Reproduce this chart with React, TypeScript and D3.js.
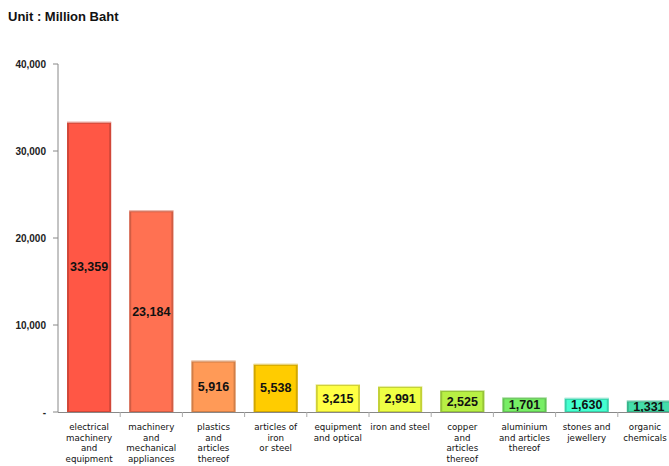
import React from 'react';
import { scaleBand, scaleLinear, format } from 'd3';

const width = 669;
const height = 466;

const categories = [
  ['electrical', 'machinery', 'and', 'equipment'],
  ['machinery', 'and', 'mechanical', 'appliances'],
  ['plastics', 'and', 'articles', 'thereof'],
  ['articles of', 'iron', 'or steel'],
  ['equipment', 'and optical'],
  ['iron and steel'],
  ['copper', 'and', 'articles', 'thereof'],
  ['aluminium', 'and articles', 'thereof'],
  ['stones and', 'jewellery'],
  ['organic', 'chemicals'],
];
const values = [33359, 23184, 5916, 5538, 3215, 2991, 2525, 1701, 1630, 1331];
const colors = ['#ff5745', '#ff7152', '#ff9a57', '#ffcc00', '#ffff44', '#eeff44', '#b8f044', '#78ee66', '#44ffd0', '#44ddaa'];
const yTicks = [0, 10000, 20000, 30000, 40000];

const left = 58;
const top = 64;
const bottom = 412;

const x = scaleBand<number>()
  .domain(values.map((_, i) => i))
  .range([left, left + 622])
  .paddingInner(0.29)
  .paddingOuter(0.145);

const y = scaleLinear().domain([0, 40000]).range([bottom, top]);
const fmt = format(',');
const font = '"Liberation Sans", Arial, sans-serif';

const App = () => (
  <svg width={width} height={height} style={{ position: 'absolute', left: 0, top: 0 }} fontFamily={font}>
    <defs>
      <clipPath id='plot'>
        <rect x={left} y={top - 20} width={width - left} height={bottom - top + 20} />
      </clipPath>
    </defs>
    <text x={8} y={21} fontSize={13} fontWeight='bold' fill='#111'>Unit : Million Baht</text>
    {yTicks.map(t => (
      <g key={t}>
        <line x1={left - 5} x2={left} y1={y(t)} y2={y(t)} stroke='#888' />
        <text x={left - 12} y={y(t) + 4} fontSize={10} fontWeight='bold' textAnchor='end' fill='#222'>
          {t === 0 ? '-' : fmt(t)}
        </text>
      </g>
    ))}
    <g clipPath='url(#plot)'>
      {values.map((v, i) => {
        const bx = x(i)!;
        const bw = x.bandwidth();
        const by = y(v);
        const bh = bottom - by;
        return (
          <g key={i}>
            <rect x={bx} y={by} width={bw} height={bh} fill={colors[i]} />
            <rect x={bx + 1} y={by + 1} width={bw - 2} height={bh - 1} fill='none'
              stroke='rgba(0,0,0,0.18)' strokeWidth={2} />
            <line x1={bx} x2={bx + bw} y1={by + 0.5} y2={by + 0.5} stroke='rgba(255,255,255,0.6)' />
            <text x={bx + bw / 2} y={by + bh / 2 + 4.5} fontSize={12.5} fontWeight='bold'
              textAnchor='middle' fill='#111'>{fmt(v)}</text>
          </g>
        );
      })}
    </g>
    <line x1={left} x2={left} y1={top} y2={bottom} stroke='#888' />
    <line x1={left} x2={width} y1={bottom + 0.5} y2={bottom + 0.5} stroke='#888' />
    {values.map((_, i) => {
      const tx = left + (x.step() * (i + 1));
      return <line key={i} x1={tx} x2={tx} y1={bottom} y2={bottom + 5} stroke='#aaa' />;
    })}
    {categories.map((lines, i) => {
      const cx = Math.min(x(i)! + x.bandwidth() / 2, 645);
      return (
        <text key={i} x={cx} y={430} fontSize={8.7} textAnchor='middle' fill='#111'
          fontFamily='Tahoma, "DejaVu Sans", sans-serif'>
          {lines.map((l, j) => (
            <tspan key={j} x={cx} dy={j === 0 ? 0 : 10.5}>{l}</tspan>
          ))}
        </text>
      );
    })}
  </svg>
);

export default App;
